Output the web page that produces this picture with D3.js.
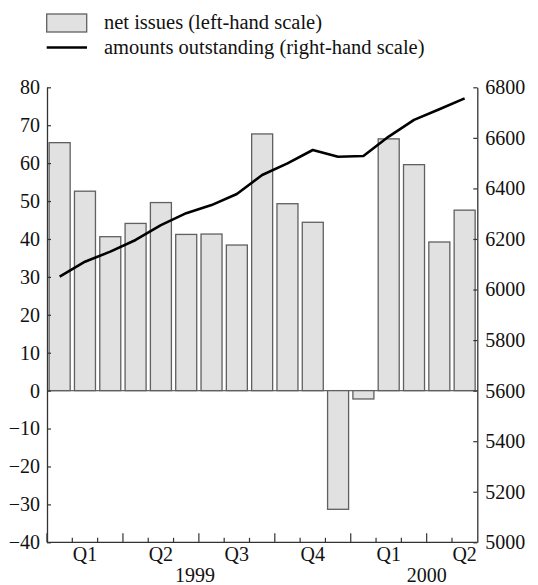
<!DOCTYPE html>
<html>
<head>
<meta charset="utf-8">
<script src="https://cdn.jsdelivr.net/npm/d3@7"></script>
<style>
  html, body { margin: 0; padding: 0; background: #fff; }
  svg { display: block; }
</style>
</head>
<body>
<svg id="chart" width="538" height="585" font-family="Liberation Serif"></svg>
<script>
// ---- data ----
const months = ["Jan 1999","Feb 1999","Mar 1999","Apr 1999","May 1999","Jun 1999",
  "Jul 1999","Aug 1999","Sep 1999","Oct 1999","Nov 1999","Dec 1999",
  "Jan 2000","Feb 2000","Mar 2000","Apr 2000","May 2000"];
const netIssues = [65.4, 52.6, 40.6, 44.1, 49.6, 41.2, 41.3, 38.4, 67.7, 49.3, 44.4, -31.3, -2.2, 66.4, 59.6, 39.2, 47.6];
const outstanding = [6051, 6110, 6150, 6196, 6255, 6302, 6334, 6378, 6453, 6499, 6552, 6525, 6528, 6605, 6671, 6713, 6756];
const quarterLabels = ["Q1","Q2","Q3","Q4","Q1","Q2"];
const yearLabels = ["1999","2000"];
const leftTicks = [-40,-30,-20,-10,0,10,20,30,40,50,60,70,80];
const rightTicks = [5000,5200,5400,5600,5800,6000,6200,6400,6600,6800];
const legendLabels = ["net issues (left-hand scale)","amounts outstanding (right-hand scale)"];

// ---- layout ----
const FONT = "Liberation Serif";
const svg = d3.select("#chart");
const L = 47, R = 477.3, T = 87.3, B = 542.3;
const fontSize = 20;
const legendFontSize = 20.5;

function styleText(sel, size) {
  sel.attr("font-family", FONT)
     .style("font-family", "'Liberation Serif'")
     .attr("font-size", size || fontSize)
     .attr("fill", "#111");
}

const x = d3.scaleBand().domain(months).range([L, R]).paddingInner(0.17).paddingOuter(0.085);
const xi = d3.scaleLinear().domain([0, months.length]).range([L, R]);
const yL = d3.scaleLinear().domain([-40, 80]).range([B, T]);
const yR = d3.scaleLinear().domain([5000, 6800]).range([B, T]);

const axisColor = "#333";

// zero line
svg.append("line")
  .attr("x1", L).attr("x2", R).attr("y1", yL(0)).attr("y2", yL(0))
  .attr("stroke", "#666").attr("stroke-width", 1.3);

// bars
svg.append("g").selectAll("rect").data(netIssues).join("rect")
  .attr("x", (d, i) => x(months[i]))
  .attr("width", x.bandwidth())
  .attr("y", d => yL(Math.max(0, d)))
  .attr("height", d => Math.abs(yL(d) - yL(0)))
  .attr("fill", "#e1e1e1")
  .attr("stroke", "#606060")
  .attr("stroke-width", 1.3);

// line
const line = d3.line()
  .x((d, i) => x(months[i]) + x.bandwidth() / 2)
  .y(d => yR(d));
svg.append("path").datum(outstanding)
  .attr("d", line)
  .attr("fill", "none")
  .attr("stroke", "#000")
  .attr("stroke-width", 2.6)
  .attr("stroke-linejoin", "round");

// left axis
const gL = svg.append("g").attr("transform", `translate(${L},0)`)
  .call(d3.axisLeft(yL).tickValues(leftTicks).tickSizeInner(-4).tickSizeOuter(0).tickPadding(7).tickFormat(d3.format("d")));
// right axis
const gR = svg.append("g").attr("transform", `translate(${R},0)`)
  .call(d3.axisRight(yR).tickValues(rightTicks).tickSizeInner(-4).tickSizeOuter(0).tickPadding(8).tickFormat(d3.format("d")));
[gL, gR].forEach(g => {
  g.attr("font-family", FONT).attr("font-size", fontSize);
  g.select(".domain").attr("stroke", axisColor).attr("stroke-width", 1.3);
  g.selectAll(".tick line").attr("stroke", axisColor).attr("stroke-width", 1.2);
  g.selectAll(".tick text").call(styleText);
});

// x axis
svg.append("line").attr("x1", L).attr("x2", R).attr("y1", B).attr("y2", B)
  .attr("stroke", axisColor).attr("stroke-width", 1.3);
const bounds = d3.range(1, months.length);
svg.append("g").selectAll("line").data(bounds).join("line")
  .attr("x1", d => xi(d)).attr("x2", d => xi(d))
  .attr("y1", B).attr("y2", d => B - (d % 3 === 0 ? 9 : 4.5))
  .attr("stroke", axisColor).attr("stroke-width", 1.2);
svg.append("line").attr("x1", L).attr("x2", L).attr("y1", B).attr("y2", B - 9)
  .attr("stroke", axisColor).attr("stroke-width", 1.3);

svg.append("g").selectAll("text").data(quarterLabels).join("text")
  .attr("x", (d, i) => xi(i * 3 + 1.5))
  .attr("y", B + 19)
  .attr("text-anchor", "middle")
  .call(styleText)
  .text(d => d);
svg.append("g").selectAll("text").data(yearLabels).join("text")
  .attr("x", (d, i) => xi(i === 0 ? 5.85 : 15))
  .attr("y", B + 40)
  .attr("text-anchor", "middle")
  .call(styleText)
  .text(d => d);

// legend
const lg = svg.append("g");
lg.append("rect").attr("x", 46.7).attr("y", 14).attr("width", 40).attr("height", 18)
  .attr("fill", "#e1e1e1").attr("stroke", "#606060").attr("stroke-width", 1.3);
lg.append("line").attr("x1", 46.7).attr("x2", 87).attr("y1", 47.5).attr("y2", 47.5)
  .attr("stroke", "#000").attr("stroke-width", 2.6);
lg.selectAll("text").data(legendLabels).join("text")
  .attr("x", 104)
  .attr("y", (d, i) => 29 + i * 25)
  .call(styleText, legendFontSize)
  .text(d => d);
</script>
</body>
</html>
